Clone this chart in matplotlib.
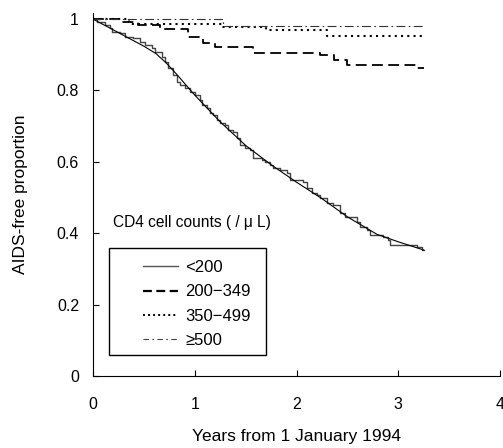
import matplotlib
matplotlib.use("Agg")
import matplotlib.pyplot as plt
from matplotlib.patches import Rectangle

plt.rcParams['font.family'] = ['Liberation Sans', 'DejaVu Sans']

# Kaplan-Meier steps, CD4 < 200 (time in years, proportion after each step)
t_lt200 = [0.0, 0.039, 0.118, 0.167, 0.187, 0.266, 0.315, 0.394, 0.463, 0.512,
           0.581, 0.610, 0.679, 0.709, 0.738, 0.787, 0.827, 0.856, 0.906, 0.955,
           1.004, 1.053, 1.073, 1.122, 1.152, 1.181, 1.220, 1.250, 1.299, 1.329,
           1.378, 1.417, 1.447, 1.496, 1.545, 1.575, 1.663, 1.693, 1.742, 1.772,
           1.841, 1.909, 1.939, 2.067, 2.106, 2.156, 2.205, 2.234, 2.303, 2.362,
           2.431, 2.480, 2.598, 2.628, 2.697, 2.726, 2.854, 2.904, 2.923, 3.189,
           3.238, 3.25]
s_lt200 = [1.000, 0.992, 0.983, 0.975, 0.964, 0.961, 0.950, 0.947, 0.936, 0.927,
           0.919, 0.908, 0.894, 0.880, 0.863, 0.843, 0.824, 0.815, 0.807, 0.796,
           0.787, 0.773, 0.759, 0.751, 0.737, 0.731, 0.717, 0.709, 0.703, 0.689,
           0.683, 0.667, 0.647, 0.639, 0.633, 0.611, 0.605, 0.599, 0.591, 0.583,
           0.577, 0.569, 0.549, 0.543, 0.527, 0.513, 0.507, 0.499, 0.485, 0.479,
           0.457, 0.445, 0.431, 0.417, 0.409, 0.395, 0.389, 0.381, 0.367, 0.361,
           0.353, 0.353]

# fitted curve for CD4 < 200
t_fit = [0.0, 0.25, 0.5, 0.62, 0.72, 0.82, 1.0, 1.25, 1.5, 1.75, 2.0, 2.25, 2.5, 2.79, 3.0, 3.25]
s_fit = [1.0, 0.962, 0.924, 0.903, 0.877, 0.846, 0.787, 0.712, 0.646, 0.592, 0.543, 0.497, 0.446, 0.397, 0.376, 0.353]

t_200 = [0.0, 0.28, 0.44, 0.66, 0.93, 0.98, 1.08, 1.20, 1.57, 2.23, 2.37, 2.50, 3.17, 3.25]
s_200 = [1.0, 0.993, 0.983, 0.971, 0.949, 0.949, 0.934, 0.922, 0.906, 0.899, 0.885, 0.871, 0.862, 0.862]

t_350 = [0.0, 0.35, 1.27, 1.70, 2.30, 3.25]
s_350 = [1.0, 0.986, 0.979, 0.969, 0.952, 0.952]

t_500 = [0.0, 1.28, 3.25]
s_500 = [1.0, 0.980, 0.980]

labels = ['<200', '200\u2212349', '350\u2212499', '\u2265500']

fig = plt.figure(figsize=(5.03, 4.48), dpi=100)
ax = fig.add_axes([93/503, 1-376/448, 407/503, 363/448])

ax.step(t_lt200, s_lt200, where='post', color='#444444', lw=1.0)
ax.plot(t_fit, s_fit, color='black', lw=0.8)
ax.step(t_200, s_200, where='post', color='black', lw=1.3, dashes=(6, 3))
ax.step(t_350, s_350, where='post', color='black', lw=1.5, dashes=(1, 2))
ax.step(t_500, s_500, where='post', color='#333333', lw=0.8, dashes=(8, 3, 1.5, 3))

# legend handles
h1, = ax.plot([], [], color='#555555', lw=1.0)
h2, = ax.plot([], [], color='black', lw=1.6, dashes=(4, 2))
h3, = ax.plot([], [], color='black', lw=1.4, dashes=(1, 1.6))
h4, = ax.plot([], [], color='#444444', lw=0.8, dashes=(5, 3, 1.5, 3))
leg = ax.legend([h1, h2, h3, h4], labels, loc='upper left',
                bbox_to_anchor=(0.103, 0.342), frameon=False, borderpad=0,
                fontsize=12, handlelength=2.1, handletextpad=0.42, labelspacing=0.55)
ax.add_patch(Rectangle((0.040, 0.058), 0.386, 0.295, transform=ax.transAxes,
                       fill=False, edgecolor='black', lw=1.0))
ax.text(0.048, 0.424, 'CD4 cell counts ( / \u03bc L)', transform=ax.transAxes,
        fontsize=11.2, va='center', ha='left')

ax.set_xlim(0, 4)
ax.set_ylim(0, 1.017)
ax.set_xticks([0, 1, 2, 3, 4])
ax.set_yticks([0, 0.2, 0.4, 0.6, 0.8, 1])
ax.set_yticklabels(['0', '0.2', '0.4', '0.6', '0.8', '1'])
ax.spines['top'].set_visible(False)
ax.spines['right'].set_visible(False)
ax.tick_params(direction='in', length=4, width=0.8, labelsize=11.5)
ax.tick_params(axis='x', pad=15)
ax.tick_params(axis='y', pad=10)
ax.set_xlabel('Years from 1 January 1994', fontsize=12.5, labelpad=12)
ax.set_ylabel('AIDS-free proportion', fontsize=12.5, labelpad=21)

fig.savefig('out.png', dpi=100)
